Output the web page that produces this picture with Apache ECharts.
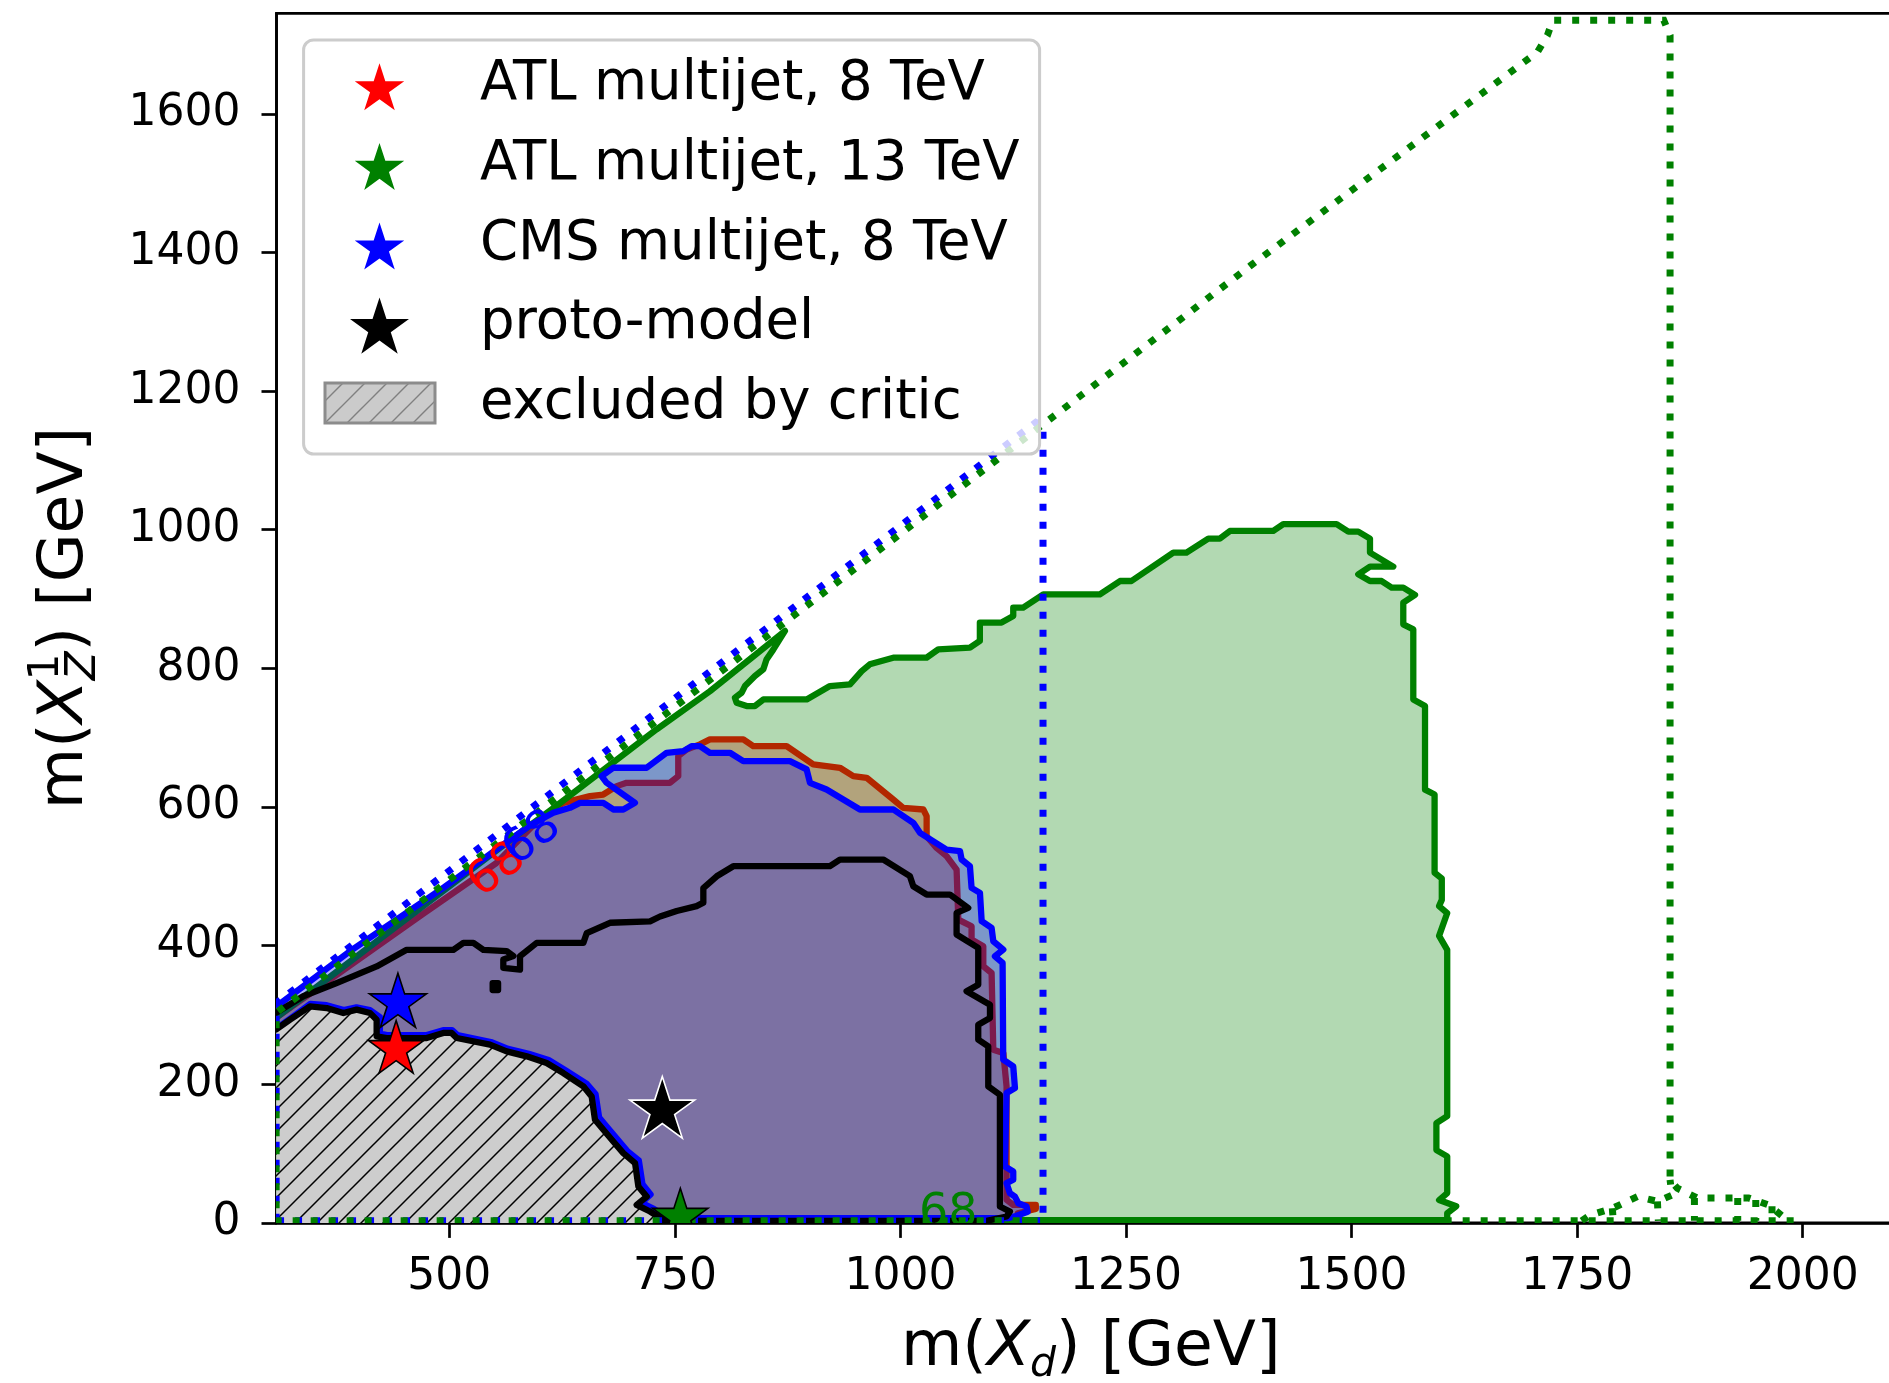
<!DOCTYPE html>
<html>
<head>
<meta charset="utf-8">
<script src="https://cdn.jsdelivr.net/npm/echarts@6/dist/echarts.min.js"></script>
<style>
  html, body { margin: 0; padding: 0; background: #ffffff; }
  #chart { width: 1889px; height: 1383px; }
</style>
</head>
<body>
<div id="chart"></div>
<script>
// ---------------------------------------------------------------------------
// Axis ticks
// ---------------------------------------------------------------------------
const xTickValues = [500, 750, 1000, 1250, 1500, 1750, 2000];
const yTickValues = [0, 200, 400, 600, 800, 1000, 1200, 1400, 1600];
const xRange = [308.4, 2113.4];
const yRange = [0, 1745];

// ---------------------------------------------------------------------------
// Contours in the (m(X_d), m(X_Z^1)) plane, GeV
// ---------------------------------------------------------------------------
// ATL multijet 13 TeV: 68% contour (closed)
const atl13Contour = [
  [308, 4], [308, 296], [560, 545], [615, 598], [729.7, 712], [788.8, 767], [872, 854],
  [859, 827], [851.6, 813], [848, 798.6], [838.7, 789], [827.6, 774.5], [824, 765], [816.5, 757.6],
  [818.4, 750.4], [829.5, 745.6], [838.7, 745.6], [848, 755.2], [896, 755.2], [921.8, 774.5],
  [944, 777], [957, 796], [966, 805.8], [992, 815.4], [1029, 815.4], [1041.9, 827.4], [1077, 830],
  [1088, 839.5], [1088, 866], [1112, 866], [1125, 875.5], [1125, 887.6], [1136, 887.6],
  [1158.3, 906.8], [1221, 906.8], [1243.3, 926], [1256, 926], [1302.4, 967], [1317, 967],
  [1341.2, 987.2], [1354.1, 987.2], [1365.2, 998.3], [1413.2, 998.3], [1424.3, 1008], [1483.4, 1008],
  [1496.4, 997.3], [1507.4, 997.3], [1520.4, 987.2], [1520.4, 967], [1546.2, 946.8], [1520.4, 946.8],
  [1507.4, 935.7], [1520.4, 926], [1533.3, 926], [1544.4, 916.4], [1557.3, 916.4], [1570.3, 905.9],
  [1557.3, 894.8], [1557.3, 863.5], [1568.4, 856.3], [1568.4, 755.2], [1581.4, 745.6], [1581.4, 625],
  [1592, 618], [1592, 505], [1600, 497], [1600, 466], [1597, 457], [1606, 447], [1597, 414],
  [1606, 394], [1606, 154], [1594, 144], [1594, 105], [1606, 96], [1606, 43], [1597, 33],
  [1616, 24], [1606, 14], [1606, 4], [308, 4]
];

// lower edge shared by the critic exclusion and the other contours (left to right)
const criticEdge = [
  [308, 279], [323.4, 293.2], [345.5, 312.4], [364, 310], [382.5, 302.8], [397.3, 307.6],
  [412, 302.8], [419.4, 293.2], [419.4, 269.1], [430.5, 266.7], [474.8, 266.7], [493.3, 274],
  [502.5, 274], [508.1, 266.7], [545, 257.1], [563.5, 247.5], [585.7, 240.3], [607.8, 230.6],
  [626.3, 216.2], [648.5, 197], [657.7, 182.5], [661.4, 148.8], [670.7, 134.3], [681.7, 117.5],
  [692.8, 100.7], [705.8, 86.2], [709.5, 52.5], [718.7, 38], [707.6, 26], [722.4, 16.4], [737.2, 4.4]
];
const criticCorner = [[737.2, 0], [308, 0]];

// ATL multijet 8 TeV: outer part of the 68% contour
const atl8Outer = [
  [308, 296], [470, 445], [552, 519], [600, 583], [626.3, 606], [655.8, 615.6], [670.6, 618],
  [685.4, 630.1], [696.4, 634.9], [744.5, 634.9], [753.7, 644.5], [753.7, 673.4], [763, 683],
  [777.7, 690.3], [788.8, 697.5], [825.8, 697.5], [836.8, 687.8], [873.8, 687.8], [903.3, 661.4],
  [932.9, 656.6], [947.7, 644.5], [962.5, 642.1], [992, 610.8], [1003.1, 598.8], [1025.3, 596.4],
  [1029, 586.8], [1029, 557.9], [1040, 541], [1051.1, 529.1], [1062.2, 509.8], [1064.1, 437.6],
  [1078.8, 428], [1078.8, 408.7], [1091.8, 399], [1091.8, 370.2], [1101, 360.6], [1102.9, 249.9],
  [1114, 245.1], [1117.6, 196.9], [1117.6, 33.3], [1125, 26], [1150, 26], [1150, 20], [1130, 14],
  [1128, 4], [737.2, 4.4]
];

// CMS multijet 8 TeV: outer part and lower part of the 68% contour
const cms8Outer = [
  [308, 312], [392, 394], [494, 484], [528, 516], [560, 546], [590, 574], [615.2, 591.6],
  [633.6, 598.8], [644.7, 606], [670.6, 606], [681.7, 596.4], [692.8, 596.4], [705.7, 606],
  [674.3, 634.9], [668.7, 644.5], [681.7, 656.6], [718.6, 656.6], [740.8, 678.2], [759.3, 680.6],
  [768.5, 687.8], [777.7, 687.8], [788.8, 678.2], [811, 678.2], [825.8, 666.2], [877.5, 666.2],
  [896, 654.2], [899.7, 634.9], [918.1, 625.3], [955.1, 596.4], [992, 596.4], [1014.2, 577.1],
  [1021.6, 562.7], [1051.1, 538.6], [1066, 536.3], [1067.8, 524.2], [1077, 514.6], [1078.8, 483.3],
  [1088.1, 476.1], [1090, 435.2], [1101, 425.6], [1102.9, 406.3], [1114, 394.3], [1104.7, 384.6],
  [1113.2, 375], [1113.9, 235.4], [1125, 225.8], [1126.9, 194.5], [1117.6, 187.3], [1115.8, 81.4],
  [1125, 74.2], [1125, 62.2], [1117.6, 57.3], [1121.3, 42.9], [1126.9, 38], [1130.6, 28.4],
  [1139.8, 23.6], [1141, 16], [1128, 10], [1120, 7], [742, 7]
];
const cms8Lower = [
  [312, 284], [326, 297], [346, 316], [364, 314], [383, 307], [397, 311], [412, 307], [423, 297],
  [423, 273], [431, 271], [475, 271], [493, 278], [503, 278], [509, 271], [546, 261], [565, 251],
  [588, 244], [610, 235], [629, 220], [652, 201], [662, 186], [666, 152], [675, 138], [686, 121],
  [697, 104], [710, 90], [714, 56], [723, 41], [713, 29], [727, 20], [742, 7]
];

// proto-model contour (upper / right part) and a small island
const protoContour = [
  [308, 303], [338, 327], [375, 346], [419.4, 370], [452.7, 394], [504.4, 394], [515.5, 404],
  [526.6, 404], [537.7, 394], [563.5, 392], [571, 385], [559.8, 380], [559.8, 368], [578.3, 365.4],
  [578.3, 384.6], [596.8, 404], [648.5, 404], [652.2, 418], [678, 433], [722.4, 435], [733.5, 442],
  [752, 450], [774, 457], [781.5, 462], [781.5, 483], [796.3, 500], [814.7, 514.6], [921.8, 514.6],
  [932.9, 524.2], [980.9, 524.2], [1010.5, 500.2], [1014.2, 485.7], [1029, 473.7], [1054.8, 473.7],
  [1075.1, 454.4], [1062.2, 447.2], [1062.2, 416], [1086.2, 396.7], [1086.2, 343.7], [1073.3, 334.1],
  [1099.2, 314.8], [1099.2, 295.6], [1086.2, 286], [1086.2, 264.3], [1097.3, 254.7], [1097.3, 196.9],
  [1110.2, 184.9], [1110.2, 23.6], [1121.3, 16.4], [1117.6, 9.2], [1095.5, 3], [737.2, 3]
];
const protoIsland = [[548, 336], [554, 336], [554, 346], [548, 346], [548, 336]];

// domains covered by the analyses (dotted)
const cms8Domain = [[308, 3], [308, 317], [1150, 1155], [1158, 1150], [1158, 3], [308, 3]];
const atl13Domain = [
  [1990, 3], [308, 3], [308, 303], [1151, 1145], [1388, 1381], [1706, 1689], [1717, 1713],
  [1723, 1735], [1846, 1735], [1853, 1713], [1853, 62], [1861, 50], [1883, 36], [1940, 36],
  [1962, 26], [1984, 3]
];
const atl13DomainBump = [[1755, 3], [1764, 11], [1789, 21], [1817, 38], [1839, 31], [1855, 40], [1853, 62]];
const atl13DomainStrands = [
  [[1789, 21], [1790, 3]], [[1839, 31], [1840, 3]], [[1880, 36], [1880, 3]],
  [[1928, 36], [1928, 3]], [[1948, 33], [1948, 3]], [[1966, 24], [1966, 3]]
];

// best-fit points
const atl8Best = [441, 250];
const atl13Best = [756, 8];
const cms8Best = [443, 317];
const protoModelPoint = [736, 162];

// contour level labels
const contourLevel = '68';
const atl8LabelAt = [553, 508];
const cms8LabelAt = [592, 554];
const atl13LabelAt = [1053, 13];

// legend entries
const legendLabels = ['ATL multijet, 8 TeV', 'ATL multijet, 13 TeV', 'CMS multijet, 8 TeV', 'proto-model', 'excluded by critic'];

// ---------------------------------------------------------------------------
// Drawing helpers
// ---------------------------------------------------------------------------
const FONT = '"DejaVu Sans"';
const GREEN = '#008000', BLUE = '#0000ff', RED = '#ff0000';
const LW = 6.3;
const DOT = { lineWidth: 7, lineDash: [7, 11], lineCap: 'butt' };

function starPoints(cx, cy, R) {
  const r = R * 0.381966, pts = [];
  for (let k = 0; k < 10; k++) {
    const a = -Math.PI / 2 + k * Math.PI / 5;
    const rad = k % 2 ? r : R;
    pts.push([cx + rad * Math.cos(a), cy + rad * Math.sin(a)]);
  }
  return pts;
}

function hatchPattern(bg, ink, width) {
  const s = 22;
  const c = document.createElement('canvas');
  c.width = s; c.height = s;
  const g = c.getContext('2d');
  g.fillStyle = bg; g.fillRect(0, 0, s, s);
  g.strokeStyle = ink; g.lineWidth = width;
  g.beginPath();
  g.moveTo(0, s); g.lineTo(s, 0);
  g.moveTo(-2, 2); g.lineTo(2, -2);
  g.moveTo(s - 2, s + 2); g.lineTo(s + 2, s - 2);
  g.stroke();
  return { image: c, repeat: 'repeat' };
}

function shapeSeries(points, z, kind, style) {
  return {
    type: 'custom', z: z, clip: true, silent: true,
    data: points, encode: { x: 0, y: 1 },
    renderItem: function (params, api) {
      if (params.dataIndex !== 0) return null;
      return { type: kind, shape: { points: points.map(p => api.coord(p)) }, style: style };
    }
  };
}

function starSeries(point, z, R, fill, edge) {
  return {
    type: 'custom', z: z, clip: true, silent: true,
    data: [point], encode: { x: 0, y: 1 },
    renderItem: function (params, api) {
      const c = api.coord([api.value(0), api.value(1)]);
      return {
        type: 'polygon', shape: { points: starPoints(c[0], c[1], R) },
        style: { fill: fill, stroke: edge, lineWidth: 1.6, lineJoin: 'miter' }
      };
    }
  };
}

function labelSeries(point, z, color, angle) {
  return {
    type: 'custom', z: z, clip: true, silent: true,
    data: [point], encode: { x: 0, y: 1 },
    renderItem: function (params, api) {
      const c = api.coord([api.value(0), api.value(1)]);
      return {
        type: 'text', x: c[0], y: c[1], rotation: angle * Math.PI / 180,
        style: {
          text: contourLevel, fill: color, font: '46px ' + FONT,
          align: 'center', verticalAlign: 'middle', textAlign: 'center', textVerticalAlign: 'middle'
        }
      };
    }
  };
}

// regions built from the contour pieces
const atl8Region = atl8Outer.concat(criticEdge.slice().reverse());
const cms8Region = cms8Outer.concat(cms8Lower.slice(0, -1).reverse());
const criticRegion = criticEdge.concat(criticCorner);

const solid = (color) => ({ stroke: color, lineWidth: LW, lineJoin: 'round', lineCap: 'round', fill: null });
const dotted = (color) => Object.assign({ stroke: color, fill: null }, DOT);

const series = [
  shapeSeries(atl8Region, 10, 'polygon', { fill: 'rgba(255,0,0,0.3)' }),
  shapeSeries(atl8Outer, 11, 'polyline', solid(RED)),
  shapeSeries(atl13Contour, 12, 'polygon', { fill: 'rgba(0,128,0,0.3)' }),
  shapeSeries(atl13Contour, 13, 'polyline', solid(GREEN)),
  shapeSeries(cms8Region, 14, 'polygon', { fill: 'rgba(0,0,255,0.3)' }),
  shapeSeries(cms8Outer, 15, 'polyline', solid(BLUE)),
  shapeSeries(cms8Lower, 15, 'polyline', solid(BLUE)),
  shapeSeries(criticRegion, 16, 'polygon', { fill: hatchPattern('#cdcdcd', '#000000', 1.5) }),
  shapeSeries(criticEdge, 17, 'polyline', solid('#000000')),
  shapeSeries(protoContour, 18, 'polyline', solid('#000000')),
  shapeSeries(protoIsland, 18, 'polyline', solid('#000000')),
  shapeSeries(cms8Domain, 19, 'polyline', dotted(BLUE)),
  shapeSeries(atl13Domain, 20, 'polyline', dotted(GREEN)),
  shapeSeries(atl13DomainBump, 20, 'polyline', dotted(GREEN))
].concat(atl13DomainStrands.map(s => shapeSeries(s, 20, 'polyline', dotted(GREEN))))
 .concat([
  labelSeries(atl8LabelAt, 21, RED, 37.5),
  labelSeries(cms8LabelAt, 21, BLUE, 37.5),
  labelSeries(atl13LabelAt, 21, GREEN, 0),
  starSeries(cms8Best, 22, 30, BLUE, '#000000'),
  starSeries(atl8Best, 22, 29, RED, '#000000'),
  starSeries(protoModelPoint, 22, 34, '#000000', '#ffffff'),
  starSeries(atl13Best, 22, 29, GREEN, '#000000')
]);

// ---------------------------------------------------------------------------
// Axis titles with math-style sub/superscripts
// ---------------------------------------------------------------------------
const measureCtx = document.createElement('canvas').getContext('2d');
function textWidth(str, size, italic) {
  measureCtx.font = (italic ? 'italic ' : '') + size + 'px ' + FONT;
  return measureCtx.measureText(str).width;
}
function titlePieces(pieces) {
  let x = 0;
  const children = [];
  const put = (p, at) => children.push({
    type: 'text', x: at, y: (p.dy || 0) - 0.346 * p.size,
    style: {
      text: p.text, fill: '#000', font: (p.italic ? 'italic ' : '') + p.size + 'px ' + FONT,
      align: 'left', verticalAlign: 'middle', textAlign: 'left', textVerticalAlign: 'middle'
    }
  });
  pieces.forEach(p => {
    if (p.stack) {
      let w = 0;
      p.stack.forEach(q => { put(q, x); w = Math.max(w, textWidth(q.text, q.size, q.italic)); });
      x += w;
    } else {
      put(p, x);
      x += textWidth(p.text, p.size, p.italic);
    }
  });
  return { children: children, width: x };
}

const xTitle = titlePieces([
  { text: 'm(', size: 63 }, { text: 'X', size: 63, italic: true },
  { text: 'd', size: 41, italic: true, dy: 10 }, { text: ') [GeV]', size: 63 }
]);
const yTitle = titlePieces([
  { text: 'm(', size: 63 }, { text: 'X', size: 63, italic: true },
  { stack: [{ text: '1', size: 42, dy: -26 }, { text: 'Z', size: 42, italic: true, dy: 11 }] },
  { text: ') [GeV]', size: 63 }
]);

// ---------------------------------------------------------------------------
// Legend
// ---------------------------------------------------------------------------
const legendRows = [85.3, 164.9, 244.5, 324.1, 403.7];
const legendStars = [
  { fill: RED, R: 26 }, { fill: GREEN, R: 26 }, { fill: BLUE, R: 26 }, { fill: '#000000', R: 31 }
];
const legendElements = [{
  type: 'rect', z: 100, shape: { x: 303.6, y: 40, width: 736, height: 414, r: 10 },
  style: { fill: 'rgba(255,255,255,0.8)', stroke: '#cccccc', lineWidth: 3 }
}];
legendStars.forEach((s, i) => legendElements.push({
  type: 'polygon', z: 101,
  shape: { points: starPoints(379.5, legendRows[i] + 1.5 + 0.0955 * s.R, s.R) },
  style: { fill: s.fill }
}));
legendElements.push({
  type: 'rect', z: 101, shape: { x: 325, y: 383, width: 110, height: 40 },
  style: { fill: hatchPattern('#cbcbcb', '#808080', 1.4), stroke: '#8c8c8c', lineWidth: 3 }
});
legendLabels.forEach((t, i) => legendElements.push({
  type: 'text', z: 101, x: 480, y: legendRows[i],
  style: {
    text: t, fill: '#000', font: '54.5px ' + FONT,
    align: 'left', verticalAlign: 'middle', textAlign: 'left', textVerticalAlign: 'middle'
  }
}));

// ---------------------------------------------------------------------------
// Chart
// ---------------------------------------------------------------------------
const GRID = { left: 276.5, top: 13.3, width: 1628.5, height: 1209.6 };
const chart = echarts.init(document.getElementById('chart'), null, { renderer: 'canvas' });

const axisCommon = {
  type: 'value',
  splitLine: { show: false },
  axisLine: { show: true, onZero: false, lineStyle: { color: '#000', width: 2.7 } },
  axisTick: { show: true, length: 15, lineStyle: { color: '#000', width: 2.7 } },
  axisLabel: { color: '#000', fontSize: 44, fontFamily: FONT, formatter: (v) => String(v) }
};

chart.setOption({
  animation: false,
  backgroundColor: '#ffffff',
  grid: Object.assign({
    show: true, borderColor: '#000', borderWidth: 2.7, backgroundColor: 'transparent',
    containLabel: false, outerBoundsMode: 'none'
  }, GRID),
  xAxis: echarts.util.merge({
    min: xRange[0], max: xRange[1],
    axisTick: { customValues: xTickValues },
    axisLabel: { customValues: xTickValues, margin: 33 }
  }, axisCommon),
  yAxis: echarts.util.merge({
    min: yRange[0], max: yRange[1],
    axisTick: { customValues: yTickValues },
    axisLabel: { customValues: yTickValues, margin: 36 }
  }, axisCommon),
  series: series,
  graphic: {
    elements: [
      { type: 'group', x: GRID.left + GRID.width / 2 - xTitle.width / 2, y: 1370, children: xTitle.children },
      { type: 'group', x: 87.3, y: GRID.top + GRID.height / 2 + yTitle.width / 2, rotation: Math.PI / 2, children: yTitle.children }
    ].concat(legendElements)
  }
});
</script>
</body>
</html>
